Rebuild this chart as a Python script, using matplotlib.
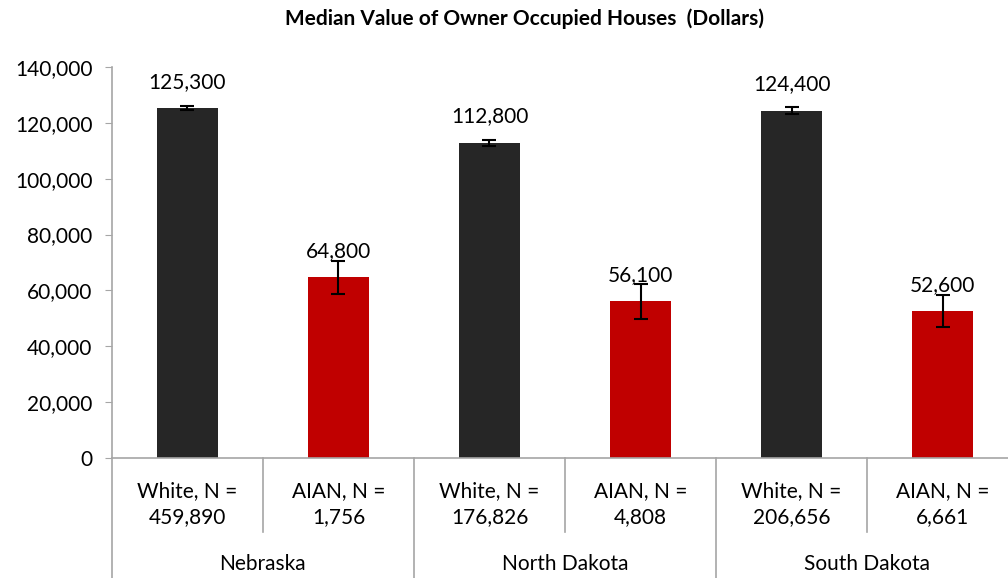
import numpy as np
import matplotlib.pyplot as plt
from matplotlib.ticker import FuncFormatter
import matplotlib.transforms as mtransforms

plt.rcParams['font.family'] = ['Lato', 'DejaVu Sans']

states = ['Nebraska', 'North Dakota', 'South Dakota']
groups = ['White, N =\n459,890', 'AIAN, N =\n1,756',
          'White, N =\n176,826', 'AIAN, N =\n4,808',
          'White, N =\n206,656', 'AIAN, N =\n6,661']
values = [125300, 64800, 112800, 56100, 124400, 52600]
errors = [600, 5900, 1000, 6300, 1200, 5800]
colors = ['#262626', '#C00000'] * 3

fig = plt.figure(figsize=(10.08, 5.78), dpi=100)
ax = fig.add_axes([0.111, 0.2076, 0.899, 0.6765])

x = np.arange(len(values))
ax.bar(x, values, width=0.4, color=colors, zorder=2)
ax.errorbar(x, values, yerr=errors, fmt='none', ecolor='black',
            elinewidth=1.5, capsize=5, capthick=1.5, zorder=3)

for xi, v in zip(x, values):
    ax.annotate(f'{v:,}', (xi, v), xytext=(0, 19), textcoords='offset points',
                ha='center', va='center', fontsize=15)

ax.set_xlim(-0.5, 5.5)
ax.set_ylim(0, 140000)
ax.set_yticks(np.arange(0, 140001, 20000))
ax.yaxis.set_major_formatter(FuncFormatter(lambda v, p: f'{int(v):,}'))
ax.tick_params(axis='y', labelsize=15, length=5, color='#A6A6A6', pad=9)
ax.set_xticks([])
for side in ['top', 'right']:
    ax.spines[side].set_visible(False)
for side in ['left', 'bottom']:
    ax.spines[side].set_color('#A6A6A6')
    ax.spines[side].set_linewidth(1.2)

# category table below the axis
trans = mtransforms.blended_transform_factory(ax.transData, ax.transAxes)
for xi, g in zip(x, groups):
    ax.text(xi, -0.118, g, transform=trans, ha='center', va='center',
            fontsize=15, linespacing=1.35)
for i, s in enumerate(states):
    ax.text(2 * i + 0.5, -0.27, s, transform=trans, ha='center', va='center',
            fontsize=15)

for b in np.arange(-0.5, 6.0, 1.0):
    outer = int(round(b + 0.5)) % 2 == 0
    y0 = -0.31 if outer else -0.19
    ax.plot([b, b], [0, y0], transform=trans, color='#A6A6A6', lw=1.2,
            clip_on=False)

fig.suptitle('Median Value of Owner Occupied Houses  (Dollars)',
             x=0.52, y=0.985, fontsize=15, fontweight='bold')

fig.savefig('out.png', dpi=100)
